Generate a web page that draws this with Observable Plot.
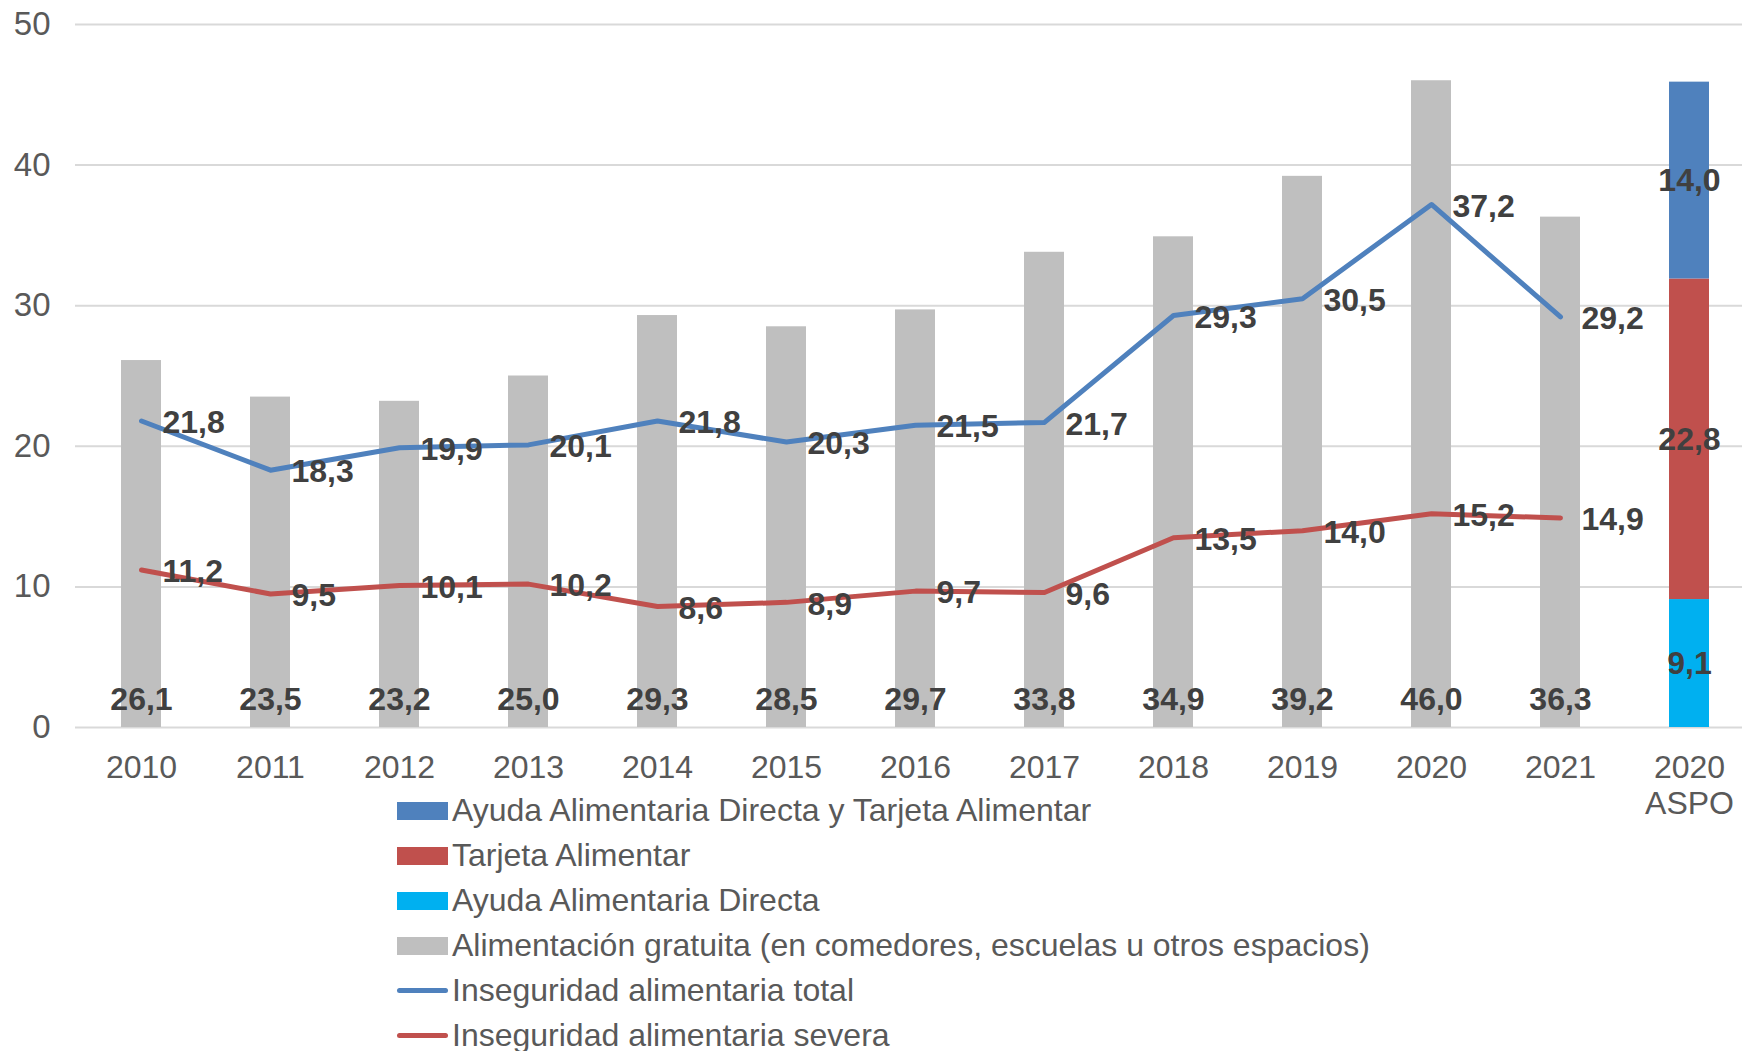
<!DOCTYPE html>
<html><head><meta charset="utf-8">
<script src="https://cdn.jsdelivr.net/npm/d3@7"></script>
<script src="https://cdn.jsdelivr.net/npm/@observablehq/plot@0.6"></script>
<style>
body{margin:0;background:#fff;font-family:"Liberation Sans",Arial,sans-serif;}
#chart{position:relative;width:1742px;height:1051px;overflow:hidden}
#legend{position:absolute;left:397px;top:788px;}
.row{display:flex;align-items:center;height:45px;font-size:32px;color:#595959;white-space:nowrap}
.sw{width:51px;height:18px;margin-right:4px;flex:none}
.ln{width:51px;height:5px;border-radius:3px;margin-right:4px;flex:none}
</style></head><body><div id="chart"></div>
<script>
const categories = ["2010","2011","2012","2013","2014","2015","2016","2017","2018","2019","2020","2021","2020 ASPO"];
const years = categories.slice(0, 12);
const gratuita = [26.1, 23.5, 23.2, 25.0, 29.3, 28.5, 29.7, 33.8, 34.9, 39.2, 46.0, 36.3];
const total = [21.8, 18.3, 19.9, 20.1, 21.8, 20.3, 21.5, 21.7, 29.3, 30.5, 37.2, 29.2];
const severa = [11.2, 9.5, 10.1, 10.2, 8.6, 8.9, 9.7, 9.6, 13.5, 14.0, 15.2, 14.9];
const aspoSeries = ["Ayuda Alimentaria Directa", "Tarjeta Alimentar", "Ayuda Alimentaria Directa y Tarjeta Alimentar"];
const aspoValues = [9.1, 22.8, 14.0];
const aspoColors = ["#00B0F0", "#C0504D", "#4F81BD"];
const barName = "Alimentación gratuita (en comedores, escuelas u otros espacios)";
const barColor = "#BFBFBF";
const totalName = "Inseguridad alimentaria total";
const severaName = "Inseguridad alimentaria severa";
const totalColor = "#4F81BD";
const severaColor = "#C0504D";
const yTicks = [0, 10, 20, 30, 40, 50];

const fmt = v => v.toFixed(1).replace(".", ",");
const bars = years.map((c, i) => ({cat: c, v: gratuita[i]}));
const tot = years.map((c, i) => ({cat: c, v: total[i]}));
const sev = years.map((c, i) => ({cat: c, v: severa[i]}));
const aspo = aspoSeries.map((s, i) => ({cat: "2020 ASPO", s, v: aspoValues[i]}));

const labelStyle = {fontSize: 32, fontWeight: "bold", fill: "#404040"};

const plot = Plot.plot({
  width: 1742, height: 1051,
  marginTop: 24, marginBottom: 324, marginLeft: 75, marginRight: 0,
  style: {fontFamily: "'Liberation Sans', Arial, sans-serif", background: "transparent", overflow: "visible"},
  x: {domain: categories, range: [75.4, 1754.6], paddingInner: 0.69, paddingOuter: 0.345, label: null},
  y: {domain: [0, 50], label: null},
  color: {domain: aspoSeries, range: aspoColors},
  marks: [
    Plot.ruleY(yTicks, {stroke: "#D9D9D9", strokeWidth: 2}),
    Plot.axisY(yTicks, {tickSize: 0, tickPadding: 25, fontSize: 33, fill: "#595959", label: null, tickFormat: d => String(d)}),
    Plot.axisX({tickSize: 0, tickPadding: 24, fontSize: 32, fill: "#595959", label: null, tickFormat: d => d.replace(" ", "\n"), lineHeight: 1.15}),
    Plot.barY(bars, {x: "cat", y: "v", fill: barColor}),
    Plot.barY(aspo, {x: "cat", y: "v", fill: "s"}),
    Plot.line(tot, {x: "cat", y: "v", stroke: totalColor, strokeWidth: 5, strokeLinecap: "round", strokeLinejoin: "round"}),
    Plot.line(sev, {x: "cat", y: "v", stroke: severaColor, strokeWidth: 5, strokeLinecap: "round", strokeLinejoin: "round"}),
    Plot.text(bars, {x: "cat", y: 0, text: d => fmt(d.v), dy: -28, ...labelStyle}),
    Plot.text(tot, {x: "cat", y: "v", text: d => fmt(d.v), textAnchor: "start", dx: 21, dy: 2, ...labelStyle}),
    Plot.text(sev, {x: "cat", y: "v", text: d => fmt(d.v), textAnchor: "start", dx: 21, dy: 2, ...labelStyle}),
    Plot.text(aspo, Plot.stackY({x: "cat", y: "v", text: d => fmt(d.v), ...labelStyle}))
  ]
});
const chart = document.getElementById("chart");
chart.appendChild(plot);

const legendItems = [
  {name: aspoSeries[2], color: aspoColors[2], type: "sw"},
  {name: aspoSeries[1], color: aspoColors[1], type: "sw"},
  {name: aspoSeries[0], color: aspoColors[0], type: "sw"},
  {name: barName, color: barColor, type: "sw"},
  {name: totalName, color: totalColor, type: "ln"},
  {name: severaName, color: severaColor, type: "ln"}
];
const legend = document.createElement("div");
legend.id = "legend";
for (const it of legendItems) {
  const row = document.createElement("div");
  row.className = "row";
  const s = document.createElement("span");
  s.className = it.type;
  s.style.background = it.color;
  const t = document.createElement("span");
  t.textContent = it.name;
  row.appendChild(s); row.appendChild(t);
  legend.appendChild(row);
}
chart.appendChild(legend);
</script></body></html>
